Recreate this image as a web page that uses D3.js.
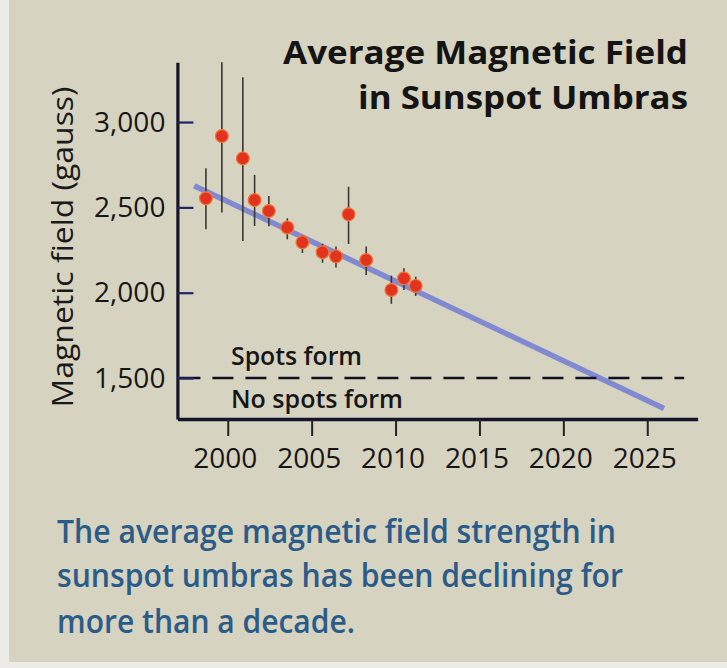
<!DOCTYPE html>
<html>
<head>
<meta charset="utf-8">
<script src="https://cdn.jsdelivr.net/npm/d3@7"></script>
<style>
  html, body { margin: 0; padding: 0; background: #ebebe8; }
  svg { display: block; }
  text { font-family: "Open Sans", "Noto Sans", sans-serif; }
</style>
</head>
<body>
<svg id="chart" width="727" height="668"></svg>
<script>
// Yearly averages of umbral magnetic field (gauss) with error-bar bounds
const years  = [1998.7, 1999.65, 2000.9, 2001.6, 2002.45, 2003.55, 2004.45, 2005.65, 2006.45, 2007.2, 2008.25, 2009.75, 2010.5, 2011.2];
const field  = [2553, 2918, 2787, 2543, 2479, 2382, 2295, 2237, 2213, 2459, 2192, 2016, 2084, 2040];
const upper  = [2729, 3350, 3262, 2690, 2566, 2436, 2338, 2286, 2270, 2621, 2271, 2100, 2143, 2094];
const lower  = [2372, 2470, 2303, 2391, 2390, 2313, 2233, 2176, 2147, 2286, 2104, 1935, 2016, 1981];

// Linear trend extrapolated forward
const trendYears  = [1998, 2026];
const trendValues = [2627, 1321];

// Threshold below which spots no longer form
const threshold      = 1500;
const thresholdYears = [1997, 2027.2];

const xTicks = [2000, 2005, 2010, 2015, 2020, 2025];
const yTicks = [1500, 2000, 2500, 3000];

const titleLines   = ["Average Magnetic Field", "in Sunspot Umbras"];
const captionLines = ["The average magnetic field strength in",
                      "sunspot umbras has been declining for",
                      "more than a decade."];

const svg = d3.select("#chart");

// paper background
svg.append("rect").attr("x", 9).attr("y", 0).attr("width", 718).attr("height", 662)
  .attr("fill", "#d6d3c0");

const x = d3.scaleLinear().domain([1997, 2028]).range([177.4, 697.6]);
const y = d3.scaleLinear().domain([1260, 3350]).range([419, 62.3]);

// trend line
svg.append("path")
  .datum(trendYears.map((t, i) => [t, trendValues[i]]))
  .attr("d", d3.line().x(d => x(d[0])).y(d => y(d[1])))
  .attr("stroke", "#818ad0").attr("stroke-width", 5.5).attr("fill", "none")
  .attr("stroke-linecap", "butt");

// threshold line
svg.append("line")
  .attr("x1", x(thresholdYears[0])).attr("x2", x(thresholdYears[1]))
  .attr("y1", y(threshold)).attr("y2", y(threshold))
  .attr("stroke", "#111122").attr("stroke-width", 2.6)
  .attr("stroke-dasharray", "21,12").attr("stroke-dashoffset", -2);

// error bars
svg.append("g").selectAll("line").data(years).join("line")
  .attr("x1", d => x(d)).attr("x2", d => x(d))
  .attr("y1", (d, i) => y(upper[i])).attr("y2", (d, i) => y(lower[i]))
  .attr("stroke", "#3a3833").attr("stroke-width", 1.6);

// points
svg.append("g").selectAll("circle").data(years).join("circle")
  .attr("cx", d => x(d)).attr("cy", (d, i) => y(field[i]))
  .attr("r", 6.4)
  .attr("fill", "#e2331f").attr("stroke", "#f0763a").attr("stroke-width", 1.2);

// y axis, ticks pointing inward
const yAxis = svg.append("g").attr("transform", `translate(${x(1997)},0)`)
  .call(d3.axisLeft(y).tickValues(yTicks).tickFormat(d3.format(","))
    .tickSize(-16).tickSizeOuter(0).tickPadding(12));
yAxis.select(".domain").attr("stroke", "#14142a").attr("stroke-width", 3.2);
yAxis.selectAll(".tick line").attr("stroke", "#1d2566").attr("stroke-width", 2.2);
yAxis.selectAll(".tick text").attr("font-size", 28).attr("fill", "#161616")
  .attr("font-family", "Open Sans");

// x axis
const xAxis = svg.append("g").attr("transform", `translate(0,${y(1260)})`)
  .call(d3.axisBottom(x).tickValues(xTicks).tickFormat(d3.format("d"))
    .tickSize(17).tickSizeOuter(0).tickPadding(12));
xAxis.select(".domain").attr("stroke", "#14142a").attr("stroke-width", 3.5);
xAxis.selectAll(".tick line").attr("stroke", "#222").attr("stroke-width", 2);
xAxis.selectAll(".tick text").attr("font-size", 28).attr("fill", "#161616")
  .attr("font-family", "Open Sans").attr("dx", -3);

// y axis title
svg.append("text")
  .attr("transform", "translate(73,247) rotate(-90)")
  .attr("text-anchor", "middle").attr("font-size", 30).attr("fill", "#1a1a1a")
  .attr("textLength", 321).attr("lengthAdjust", "spacingAndGlyphs")
  .text("Magnetic field (gauss)");

// chart title
const titleWidths = [405, 330];
const titleBase = [64, 109];
svg.append("g").selectAll("text").data(titleLines).join("text")
  .attr("x", 688).attr("y", (d, i) => titleBase[i])
  .attr("text-anchor", "end").attr("font-size", 33).attr("font-weight", 700)
  .attr("fill", "#141414")
  .attr("textLength", (d, i) => titleWidths[i]).attr("lengthAdjust", "spacingAndGlyphs")
  .text(d => d);

// threshold annotations
svg.append("text").attr("x", 231).attr("y", 365)
  .attr("font-size", 25).attr("font-weight", 600).attr("fill", "#161616")
  .attr("textLength", 131).attr("lengthAdjust", "spacingAndGlyphs")
  .text("Spots form");
svg.append("text").attr("x", 231).attr("y", 408)
  .attr("font-size", 25).attr("font-weight", 600).attr("fill", "#161616")
  .attr("textLength", 172).attr("lengthAdjust", "spacingAndGlyphs")
  .text("No spots form");

// caption
const capWidths = [559, 566, 298];
const capBase = [543, 587, 633];
svg.append("g").selectAll("text").data(captionLines).join("text")
  .attr("x", 57).attr("y", (d, i) => capBase[i])
  .attr("font-size", 32).attr("font-weight", 600).attr("fill", "#2b5b88")
  .attr("textLength", (d, i) => capWidths[i]).attr("lengthAdjust", "spacingAndGlyphs")
  .text(d => d);
</script>
</body>
</html>
